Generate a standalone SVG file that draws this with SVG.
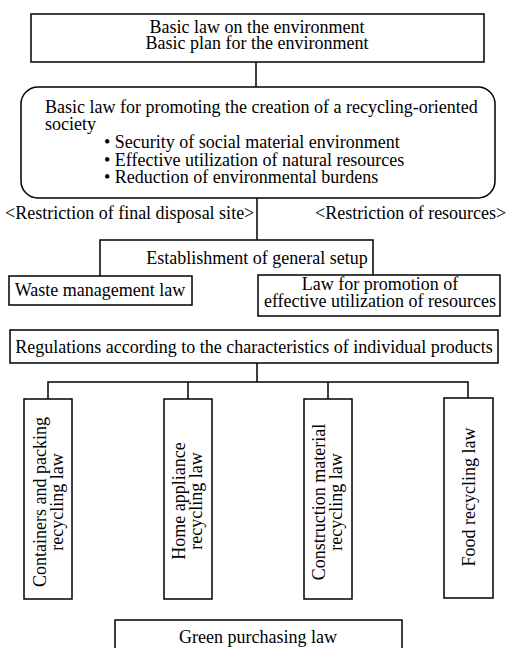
<svg xmlns="http://www.w3.org/2000/svg" width="509" height="648" viewBox="0 0 509 648">
<style>
.box{fill:none;stroke:#000;stroke-width:1.5}
.ln{fill:none;stroke:#000;stroke-width:1.5}
text{font-family:"Liberation Serif","Times New Roman",serif;font-size:18px;fill:#000}
.c{text-anchor:middle}
</style>
<rect width="509" height="648" fill="#fff"/>
<g id="connectors">
<path class="ln" d="M256,62 V87"/>
<path class="ln" d="M257,198 V240"/>
<path class="ln" d="M100,276 V240 H373 V275"/>
<path class="ln" d="M257,363 V382 M48,399 V382 H468 V398 M188,382 V399 M328,382 V399"/>
</g>
<g id="n-basic-env">
<rect class="box" x="31" y="14" width="453" height="48"/>
<text class="c" x="257" y="33">Basic law on the environment</text>
<text class="c" x="257" y="49">Basic plan for the environment</text>
</g>
<g id="n-recycling-society">
<rect class="box" x="21" y="87" width="474" height="111" rx="17" ry="17"/>
<text x="45" y="113">Basic law for promoting the creation of a recycling-oriented</text>
<text x="45" y="130">society</text>
<text x="104" y="148">• Security of social material environment</text>
<text x="104" y="166">• Effective utilization of natural resources</text>
<text x="104" y="183">• Reduction of environmental burdens</text>
</g>
<g id="labels">
<text x="5" y="219">&lt;Restriction of final disposal site&gt;</text>
<text x="315" y="219">&lt;Restriction of resources&gt;</text>
</g>
<g id="n-general-setup">
<text class="c" x="257" y="264">Establishment of general setup</text>
</g>
<g id="n-waste">
<rect class="box" x="9" y="276" width="183" height="29"/>
<text class="c" x="100" y="296">Waste management law</text>
</g>
<g id="n-resources">
<rect class="box" x="258" y="275" width="242" height="41"/>
<text class="c" x="380" y="290">Law for promotion of</text>
<text class="c" x="380" y="307">effective utilization of resources</text>
</g>
<g id="n-regulations">
<rect class="box" x="10" y="330" width="488" height="33"/>
<text class="c" x="254" y="353">Regulations according to the characteristics of individual products</text>
</g>
<g id="n-containers">
<rect class="box" x="24" y="399" width="48" height="200"/>
<text class="c" transform="translate(46,502) rotate(-90)">Containers and packing</text>
<text class="c" transform="translate(63,502) rotate(-90)">recycling law</text>
</g>
<g id="n-home">
<rect class="box" x="164" y="399" width="48" height="200"/>
<text class="c" transform="translate(185,501) rotate(-90)">Home appliance</text>
<text class="c" transform="translate(202,501) rotate(-90)">recycling law</text>
</g>
<g id="n-construction">
<rect class="box" x="304" y="399" width="48" height="200"/>
<text class="c" transform="translate(325,502) rotate(-90)">Construction material</text>
<text class="c" transform="translate(342,502) rotate(-90)">recycling law</text>
</g>
<g id="n-food">
<rect class="box" x="444" y="398" width="49" height="200"/>
<text class="c" transform="translate(475,497) rotate(-90)">Food recycling law</text>
</g>
<g id="n-green">
<rect class="box" x="115" y="620" width="287" height="40"/>
<text class="c" x="258" y="643">Green purchasing law</text>
</g>
</svg>
